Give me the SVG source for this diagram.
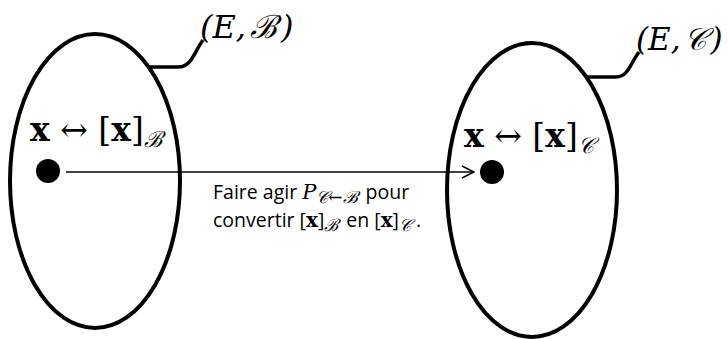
<svg xmlns="http://www.w3.org/2000/svg" width="727" height="339" viewBox="0 0 727 339">
<style>
.set{fill:none;stroke:#000;stroke-width:4}
.lead{fill:none;stroke:#000;stroke-width:3.5}
.math{font-family:"DejaVu Serif","Liberation Serif",serif;fill:#000}
.it{font-style:italic}
.bf{font-weight:bold}
.body{font-family:"Open Sans","Liberation Sans",sans-serif;font-size:19.5px;fill:#000}
.conn{fill:none;stroke:#000;stroke-width:1.5}
</style>
<defs>
<marker id="arr" viewBox="0 0 14 14" refX="13" refY="7" markerWidth="14" markerHeight="14" markerUnits="userSpaceOnUse" orient="auto">
<path d="M1,1 L13,7 L1,13" fill="none" stroke="#000" stroke-width="1.5"/>
</marker>
</defs>
<g id="setB">
<ellipse class="set" cx="95" cy="181" rx="85" ry="147"/>
<path class="lead" d="M150,67 L178,67 C192,67 194,52 203,40"/>
<text class="math it" x="200" y="38" font-size="32">(E,<tspan dx="4">ℬ</tspan><tspan dx="4">)</tspan></text>
<text class="math" x="30" y="141" font-size="33"><tspan class="bf">x</tspan> ↔ [<tspan class="bf">x</tspan>]<tspan class="it" font-size="22" dy="6">ℬ</tspan></text>
<circle cx="48" cy="171" r="12" fill="#000"/>
</g>
<g id="setC">
<ellipse class="set" cx="532" cy="190" rx="85" ry="147"/>
<path class="lead" d="M586,77 L616,77 C628,77 630,64 639,52"/>
<text class="math it" x="636" y="50" font-size="31">(E,<tspan dx="3">𝒞</tspan><tspan dx="4">)</tspan></text>
<text class="math" x="464" y="147" font-size="33"><tspan class="bf">x</tspan> ↔ [<tspan class="bf">x</tspan>]<tspan class="it" font-size="22" dy="6">𝒞</tspan></text>
<circle cx="492" cy="172" r="12" fill="#000"/>
</g>
<g id="connectors">
<line class="conn" x1="66" y1="172" x2="474" y2="172" marker-end="url(#arr)"/>
</g>
<g id="label">
<text class="body" x="213" y="199">Faire agir <tspan class="math it" font-size="21">P</tspan><tspan class="math it" font-size="17" dy="4">𝒞←ℬ</tspan><tspan dx="9" dy="-4">pour</tspan></text>
<text class="body" x="213" y="227">convertir [<tspan class="math bf" font-size="20">x</tspan>]<tspan class="math it" font-size="17" dy="4">ℬ</tspan><tspan dx="8" dy="-4">en [</tspan><tspan class="math bf" font-size="20">x</tspan>]<tspan class="math it" font-size="17" dy="4">𝒞</tspan><tspan dx="5" dy="-4">.</tspan></text>
</g>
</svg>
